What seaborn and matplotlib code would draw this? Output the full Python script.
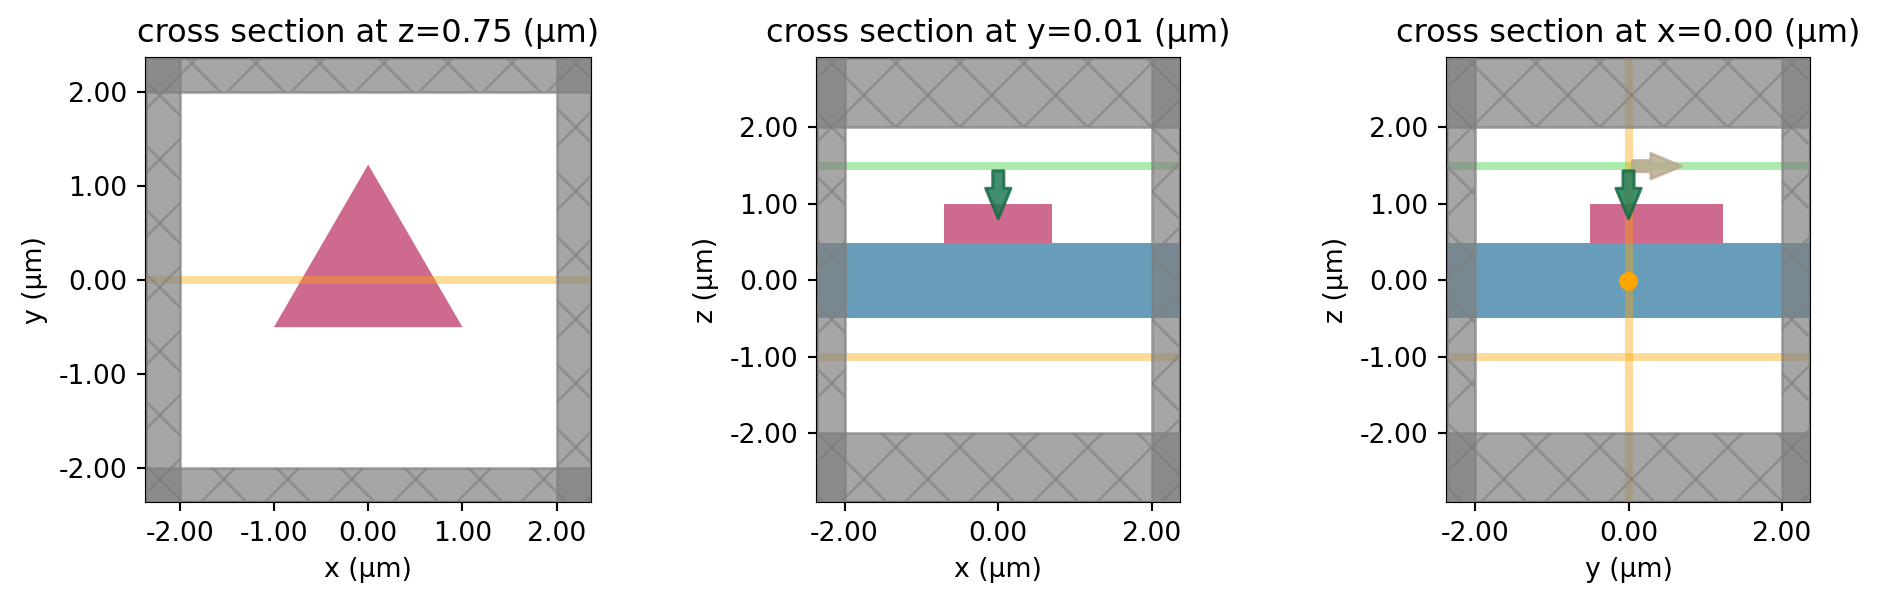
import numpy as np
import pandas as pd
import seaborn as sns
import matplotlib.pyplot as plt
from matplotlib.collections import LineCollection
from matplotlib.patches import Polygon, Rectangle
from matplotlib.transforms import IdentityTransform

DPI = 192
W, H = 1880, 605

pml_inner = 2.0
xy_lim = 2.36
z_lim = 2.9

triangle_x = [-1.0, 1.0, 0.0]
triangle_y = [-0.5, -0.5, 1.23]
slab_z = [-0.5, 0.49]
prism_z = [0.49, 1.0]
prism_x = [-0.7, 0.7]
prism_y = [-0.5, 1.23]
source_z = -1.0
monitor_z = 1.49
source_y = 0.0
dipole_y = 0.0
dipole_z = -0.015
z_section = 0.75
y_section = 0.01
x_section = 0.00

ticks_xy = [-2, -1, 0, 1, 2]
ticks_z = [-2, -1, 0, 1, 2]
ticks_short = [-2, 0, 2]

PINK = '#ce6a8f'
BLUE = '#689db9'
ARROW_GREEN = '#1f7a52'
ARROW_EDGE = '#176b47'
TAN = '#b9a78e'

# hatch spacing and phase, in output pixels
HATCH_STEP = 64
HATCH_DIFF = 0.5
HATCH_SUM = 63

sns.set_theme(style='ticks', rc={
    'font.family': 'DejaVu Sans',
    'font.size': 10,
    'axes.titlesize': 12,
    'axes.labelsize': 10,
    'xtick.labelsize': 10,
    'ytick.labelsize': 10,
    'axes.edgecolor': 'black',
    'xtick.color': 'black',
    'ytick.color': 'black',
    'text.color': 'black',
    'axes.labelcolor': 'black',
    'axes.linewidth': 0.8,
    'xtick.major.size': 3.5,
    'ytick.major.size': 3.5,
    'xtick.major.width': 0.8,
    'ytick.major.width': 0.8,
})


def make_axes(fig, left, right, top=58.3, bottom=502):
    return fig.add_axes([left / W, 1 - bottom / H, (right - left) / W, (bottom - top) / H])


def hatch_segments():
    # diagonal cross lines over the whole figure, clipped to each box later
    segs = []
    for k in range(-30, 60):
        d = HATCH_DIFF + k * HATCH_STEP
        s = HATCH_SUM + k * HATCH_STEP
        segs.append([(d, H), (d + H, 0)])
        segs.append([(s, H), (s - H, 0)])
    return segs


def add_pml(ax, xlim, ylim):
    x0, x1 = xlim
    y0, y1 = ylim
    boxes = [
        (x0, y0, -pml_inner - x0, y1 - y0),
        (pml_inner, y0, x1 - pml_inner, y1 - y0),
        (x0, y0, x1 - x0, -pml_inner - y0),
        (x0, pml_inner, x1 - x0, y1 - pml_inner),
    ]
    for bx, by, bw, bh in boxes:
        box = Rectangle((bx, by), bw, bh, facecolor='gray', edgecolor='gray',
                        alpha=0.7, linewidth=1, zorder=4)
        ax.add_patch(box)
        lines = LineCollection(hatch_segments(), colors='gray', linewidths=1, alpha=0.6,
                               transform=IdentityTransform(), zorder=4)
        ax.add_collection(lines, autolim=False)
        lines.set_clip_path(box)


def hline(ax, y, color, xlim):
    d = pd.DataFrame({'a': xlim, 'b': [y, y]})
    sns.lineplot(data=d, x='a', y='b', color=color, alpha=0.4, linewidth=3, ax=ax,
                 zorder=3, errorbar=None, sort=False, estimator=None)


def vline(ax, x, color, ylim):
    d = pd.DataFrame({'a': [x, x], 'b': ylim})
    sns.lineplot(data=d, x='a', y='b', color=color, alpha=0.4, linewidth=3, ax=ax,
                 zorder=3, errorbar=None, sort=False, estimator=None)


def arrow(ax, x, y, dx, dy, face, edge, alpha=0.85):
    ax.annotate('', xy=(x + dx, y + dy), xytext=(x, y), zorder=6,
                arrowprops=dict(arrowstyle='simple,head_width=0.95,head_length=1.15,tail_width=0.42',
                                facecolor=face, edgecolor=edge, linewidth=1.1, alpha=alpha,
                                shrinkA=0, shrinkB=0))


def finish(ax, xlim, ylim, xt, yt, xlabel, ylabel, title):
    ax.set_xlim(xlim)
    ax.set_ylim(ylim)
    ax.set_xticks(xt, [f'{t:.2f}' for t in xt])
    ax.set_yticks(yt, [f'{t:.2f}' for t in yt])
    ax.set_xlabel(xlabel)
    ax.set_ylabel(ylabel)
    ax.set_title(title)


fig = plt.figure(figsize=(W / DPI, H / DPI), dpi=DPI)

# z cross section
ax = make_axes(fig, 145.7, 590.7)
lim_x, lim_y = (-xy_lim, xy_lim), (-xy_lim, xy_lim)
ax.add_patch(Polygon(np.column_stack([triangle_x, triangle_y]), facecolor=PINK, edgecolor='none', zorder=2))
hline(ax, source_y, 'orange', lim_x)
add_pml(ax, lim_x, lim_y)
finish(ax, lim_x, lim_y, ticks_xy, ticks_xy, 'x (µm)', 'y (µm)', f'cross section at z={z_section:.2f} (µm)')

# y cross section
ax = make_axes(fig, 816.9, 1179.7)
lim_x, lim_y = (-xy_lim, xy_lim), (-z_lim, z_lim)
ax.add_patch(Rectangle((lim_x[0], slab_z[0]), lim_x[1] - lim_x[0], slab_z[1] - slab_z[0],
                       facecolor=BLUE, edgecolor='none', zorder=2))
ax.add_patch(Rectangle((prism_x[0], prism_z[0]), prism_x[1] - prism_x[0], prism_z[1] - prism_z[0],
                       facecolor=PINK, edgecolor='none', zorder=2))
hline(ax, monitor_z, 'limegreen', lim_x)
hline(ax, source_z, 'orange', lim_x)
add_pml(ax, lim_x, lim_y)
arrow(ax, 0, 1.43, 0, -0.63, ARROW_GREEN, ARROW_EDGE)
finish(ax, lim_x, lim_y, ticks_short, ticks_z, 'x (µm)', 'z (µm)', f'cross section at y={y_section:.2f} (µm)')

# x cross section
ax = make_axes(fig, 1447.4, 1809.7)
ax.add_patch(Rectangle((lim_x[0], slab_z[0]), lim_x[1] - lim_x[0], slab_z[1] - slab_z[0],
                       facecolor=BLUE, edgecolor='none', zorder=2))
ax.add_patch(Rectangle((prism_y[0], prism_z[0]), prism_y[1] - prism_y[0], prism_z[1] - prism_z[0],
                       facecolor=PINK, edgecolor='none', zorder=2))
hline(ax, monitor_z, 'limegreen', lim_x)
hline(ax, source_z, 'orange', lim_x)
vline(ax, source_y, 'orange', lim_y)
add_pml(ax, lim_x, lim_y)
sns.scatterplot(x=[dipole_y], y=[dipole_z], color='orange', s=49, edgecolor='none', ax=ax, zorder=5)
arrow(ax, 0.05, 1.49, 0.64, 0, TAN, TAN, alpha=0.8)
arrow(ax, 0, 1.43, 0, -0.63, ARROW_GREEN, ARROW_EDGE)
finish(ax, lim_x, lim_y, ticks_short, ticks_z, 'y (µm)', 'z (µm)', f'cross section at x={x_section:.2f} (µm)')

fig.savefig('out.png', dpi=DPI)
